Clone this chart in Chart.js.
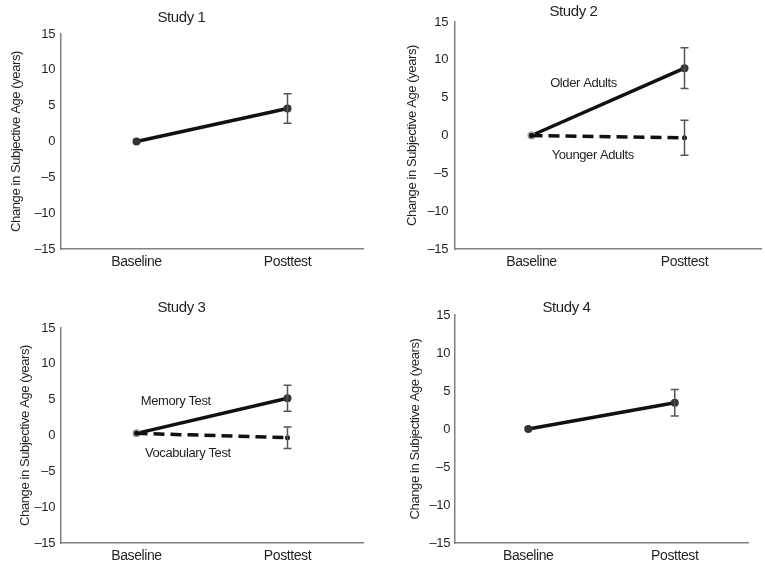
<!DOCTYPE html>
<html>
<head>
<meta charset="utf-8">
<script src="https://cdn.jsdelivr.net/npm/chart.js@4"></script>
<style>
  body { margin: 0; background: #fff; }
  #wrap { position: relative; width: 765px; height: 570px; }
  canvas { position: absolute; }
</style>
</head>
<body>
<div id="wrap">
  <canvas id="c1" width="385" height="285" style="left:0;top:0"></canvas>
  <canvas id="c2" width="380" height="285" style="left:385px;top:0"></canvas>
  <canvas id="c3" width="385" height="285" style="left:0;top:285px"></canvas>
  <canvas id="c4" width="380" height="285" style="left:385px;top:285px"></canvas>
</div>
<script>
// Data
var timePoints = ['Baseline', 'Posttest'];
var yTickLabels = ['\u201315', '\u201310', '\u20135', '0', '5', '10', '15'];

var study1 = [0, 4.6];
var study1Err = [0, 2.05];

var study2Older = [0, 8.9];
var study2OlderErr = [0, 2.7];
var study2Younger = [0, -0.3];
var study2YoungerErr = [0, 2.3];

var study3Memory = [0.3, 5.2];
var study3MemoryErr = [0, 1.8];
var study3Vocab = [0.3, -0.3];
var study3VocabErr = [0, 1.5];

var study4 = [0, 3.45];
var study4Err = [0, 1.75];

// no narrow face installed, so tighten the letters a bit instead
var FONT = "'Liberation Sans Narrow', 'Arial Narrow', 'Liberation Sans', Arial, sans-serif";
var INK = '#231f20';
Chart.defaults.font.family = FONT;
Chart.defaults.color = INK;

const tightText = {
    id: 'tightText',
    beforeInit(chart) { chart.ctx.letterSpacing = '-0.4px'; },
    beforeDraw(chart) { chart.ctx.letterSpacing = '-0.4px'; }
};

// error bars drawn from each dataset's errors array
const errorBars = {
    id: 'errorBars',
    afterDatasetsDraw(chart) {
        const ctx = chart.ctx;
        const x = chart.scales.x, y = chart.scales.y;
        chart.data.datasets.forEach(function (ds) {
            if (!ds.errors) return;
            ds.data.forEach(function (v, i) {
                const e = ds.errors[i];
                if (!e) return;
                const px = x.getPixelForValue(i);
                const top = y.getPixelForValue(v + e);
                const bot = y.getPixelForValue(v - e);
                ctx.save();
                ctx.strokeStyle = '#555';
                ctx.lineWidth = 1.5;
                ctx.beginPath();
                ctx.moveTo(px, top); ctx.lineTo(px, bot);
                ctx.moveTo(px - 4, top); ctx.lineTo(px + 4, top);
                ctx.moveTo(px - 4, bot); ctx.lineTo(px + 4, bot);
                ctx.stroke();
                ctx.restore();
            });
        });
    }
};

// series names written inside the plot
const seriesLabels = {
    id: 'seriesLabels',
    afterDatasetsDraw(chart, args, opts) {
        if (!opts.items) return;
        const ctx = chart.ctx;
        ctx.save();
        ctx.font = '13px ' + FONT;
        ctx.fillStyle = INK;
        ctx.textAlign = 'center';
        ctx.textBaseline = 'middle';
        opts.items.forEach(function (it) {
            ctx.fillText(it.text, chart.scales.x.getPixelForValue(it.x), chart.scales.y.getPixelForValue(it.y));
        });
        ctx.restore();
    }
};

function solid(data, errors, extra) {
    return Object.assign({
        data: data, errors: errors,
        borderColor: '#111', borderWidth: 3.5,
        pointRadius: 4, pointBackgroundColor: '#333', pointBorderWidth: 0,
        tension: 0, order: 2
    }, extra || {});
}

function dashed(data, errors) {
    return {
        data: data, errors: errors,
        borderColor: '#111', borderWidth: 3.5, borderDash: [11, 6],
        pointRadius: 2.5, pointBackgroundColor: '#111', pointBorderWidth: 0,
        tension: 0, order: 1
    };
}

function drawPanel(id, title, datasets, p, labels) {
    const ctx = document.getElementById(id).getContext('2d');
    new Chart(ctx, {
        type: 'line',
        data: { labels: timePoints, datasets: datasets },
        options: {
            responsive: false,
            animation: false,
            layout: { padding: { left: 0, right: p.right, top: 0, bottom: 0 } },
            plugins: {
                legend: { display: false },
                tooltip: { enabled: false },
                title: {
                    display: true, text: title,
                    font: { size: 15, weight: 'normal', lineHeight: 1.0 },
                    padding: { top: p.titleTop, bottom: p.titleBottom }
                },
                seriesLabels: { items: labels }
            },
            scales: {
                x: {
                    offset: true,
                    grid: { display: false, drawTicks: false },
                    border: { display: true, color: '#808080', width: 1.5 },
                    ticks: { font: { size: 14 }, padding: p.xPad },
                    afterFit: function (s) { s.height = p.xHeight; }
                },
                y: {
                    min: -15, max: 15,
                    grid: { display: false, drawTicks: false },
                    border: { display: true, color: '#808080', width: 1.5 },
                    ticks: {
                        stepSize: 5, font: { size: 13 }, padding: p.yPad,
                        callback: function (v, i) { return yTickLabels[i]; }
                    },
                    title: {
                        display: true, text: 'Change in Subjective Age (years)',
                        font: { size: 13 }, padding: { top: p.yTitle, bottom: 0 }
                    },
                    afterFit: function (s) { s.width = p.yWidth; }
                }
            }
        },
        plugins: [tightText, errorBars, seriesLabels]
    });
}

drawPanel('c1', 'Study 1', [solid(study1, study1Err)],
    { right: 22, titleTop: 10, titleBottom: 9, xHeight: 36, xPad: 5, yWidth: 61, yPad: 6, yTitle: 9 });

drawPanel('c2', 'Study 2', [
        solid(study2Older, study2OlderErr, { pointBackgroundColor: ['#9a9a9a', '#333'] }),
        dashed(study2Younger, study2YoungerErr)
    ],
    { right: 3, titleTop: 4, titleBottom: 3, xHeight: 36, xPad: 5, yWidth: 70, yPad: 7, yTitle: 20 },
    [{ text: 'Older Adults', x: 0.34, y: 6.9 }, { text: 'Younger Adults', x: 0.40, y: -2.6 }]);

drawPanel('c3', 'Study 3', [
        solid(study3Memory, study3MemoryErr, { pointBackgroundColor: ['#9a9a9a', '#333'] }),
        dashed(study3Vocab, study3VocabErr)
    ],
    { right: 22, titleTop: 15, titleBottom: 13, xHeight: 27, xPad: 5, yWidth: 61, yPad: 6, yTitle: 18 },
    [{ text: 'Memory Test', x: 0.26, y: 4.7 }, { text: 'Vocabulary Test', x: 0.34, y: -2.5 }]);

drawPanel('c4', 'Study 4', [solid(study4, study4Err)],
    { right: 17, titleTop: 15, titleBottom: 0, xHeight: 27, xPad: 5, yWidth: 70, yPad: 5, yTitle: 23 });
</script>
</body>
</html>
